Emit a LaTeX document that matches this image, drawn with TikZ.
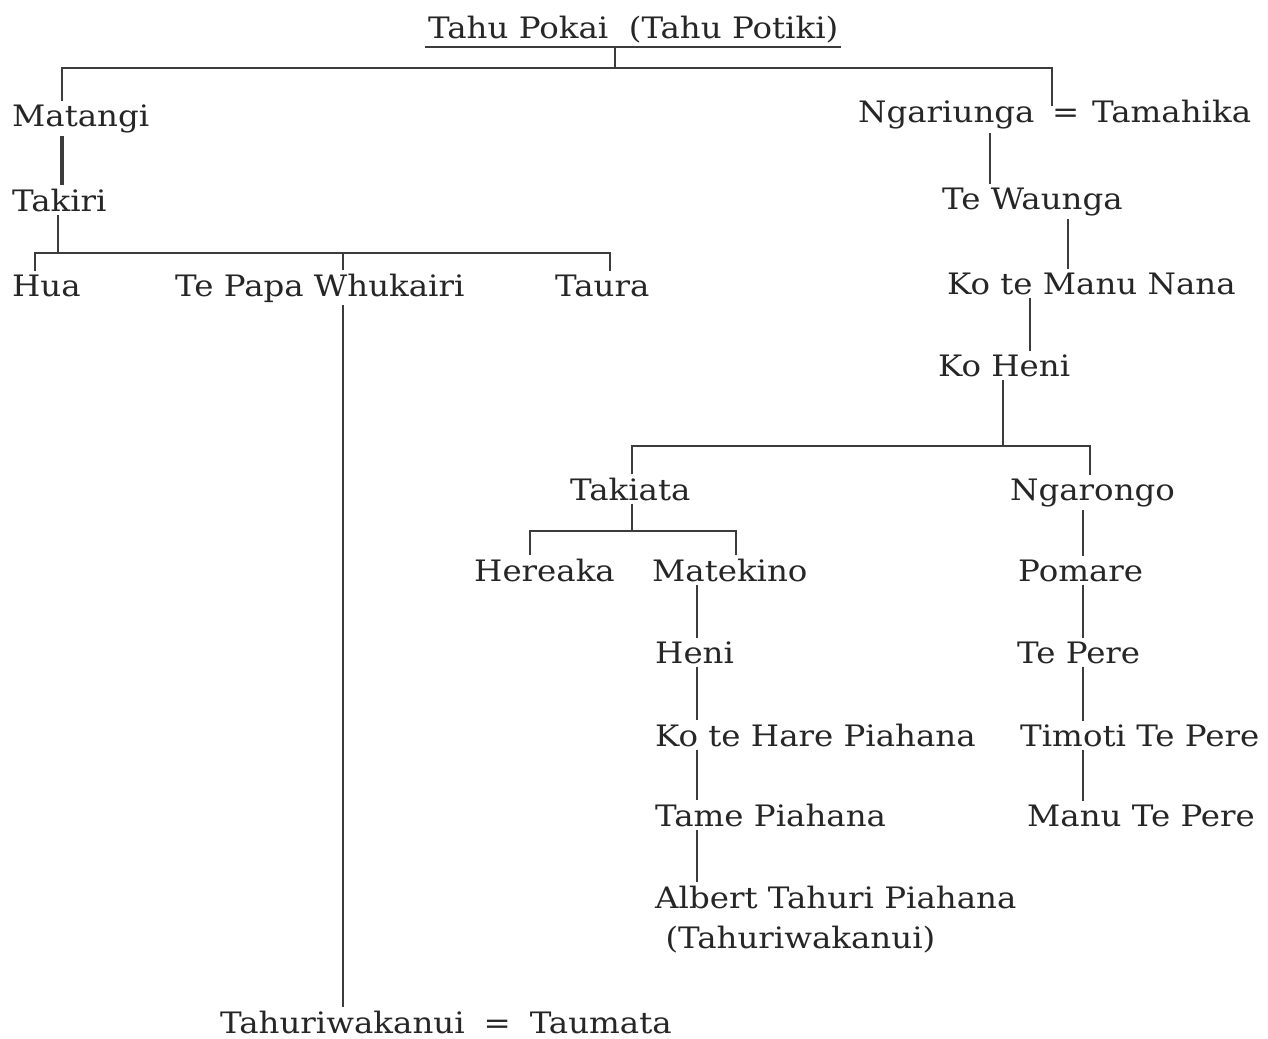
\documentclass[tikz,border=0pt]{standalone}
\usepackage{fontspec}
\setmainfont{DejaVu Serif}[FakeStretch=1.1]
\usetikzlibrary{positioning}
\definecolor{TreeInk}{HTML}{262626}
\definecolor{TreeLine}{HTML}{3C3C3C}

\begin{document}
\begin{tikzpicture}[
    x=1pt, y=-1pt,
    font=\fontsize{29.5}{40}\selectfont,
    person/.style={
      anchor=base west,
      inner sep=3pt,
      text=TreeInk,
      align=left,
    },
    link/.style={draw=TreeLine, line width=2pt},
  ]
    \useasboundingbox[fill=white] (0,0) rectangle (1268,1038);

    % people
    \node[person] (title) at (425,39) {Tahu Pokai\ \ (Tahu Potiki)};
    \node[person] (matangi) at (9,126) {Matangi};
    \node[person] (ngariunga) at (855,123) {Ngariunga};
    \node[person] (eq) at (1049,123) {=};
    \node[person] (tamahika) at (1089,123) {Tamahika};
    \node[person] (takiri) at (9,211) {Takiri};
    \node[person] (tewaunga) at (939,209) {Te Waunga};
    \node[person] (hua) at (9,296) {Hua};
    \node[person] (tepapa) at (172,296) {Te Papa Whukairi};
    \node[person] (taura) at (552,296) {Taura};
    \node[person] (manunana) at (944,294) {Ko te Manu Nana};
    \node[person] (koheni) at (935,376) {Ko Heni};
    \node[person] (takiata) at (567,500) {Takiata};
    \node[person] (ngarongo) at (1007,500) {Ngarongo};
    \node[person] (hereaka) at (471,581) {Hereaka};
    \node[person] (matekino) at (649,581) {Matekino};
    \node[person] (pomare) at (1015,581) {Pomare};
    \node[person] (heni) at (652,663) {Heni};
    \node[person] (tepere) at (1014,663) {Te Pere};
    \node[person] (harepiahana) at (652,746) {Ko te Hare Piahana};
    \node[person] (timoti) at (1017,746) {Timoti Te Pere};
    \node[person] (tamepiahana) at (652,826) {Tame Piahana};
    \node[person] (manutepere) at (1024,826) {Manu Te Pere};
    \node[person] (albert) at (652,948) {Albert Tahuri Piahana\\\ (Tahuriwakanui)};
    \node[person] (tahuri) at (217,1033) {Tahuriwakanui\hspace{19pt}=\hspace{19pt}Taumata};

    % bars and drops
    \coordinate (k1L) at (62,68);
    \coordinate (k1M) at (615,68);
    \coordinate (k1R) at (1052,68);
    \coordinate (k2L) at (35,253);
    \coordinate (k2M) at (58,253);
    \coordinate (k2W) at (343,253);
    \coordinate (k2R) at (610,253);
    \coordinate (kNg) at (990,0);
    \coordinate (kWa) at (1068,0);
    \coordinate (kMa) at (1030,0);
    \coordinate (k4L) at (632,446);
    \coordinate (k4M) at (1003,446);
    \coordinate (k4R) at (1090,446);
    \coordinate (k5L) at (530,531);
    \coordinate (k5M) at (632,531);
    \coordinate (k5R) at (736,531);
    \coordinate (kMk) at (697,0);
    \coordinate (kPo) at (1083,0);

    \draw[link] (title.south west) -- (title.south east);
    \draw[link] (title.south -| k1M) -- (k1M);
    \draw[link] (matangi.north -| k1L) -- (k1L) -- (k1R) -- (eq.north -| k1R);
    \draw[link, line width=3.6pt] (matangi.south -| k1L) -- (takiri.north -| k1L);

    \draw[link] (takiri.south -| k2M) -- (k2M);
    \draw[link] (hua.north -| k2L) -- (k2L) -- (k2R) -- (taura.north -| k2R);
    \draw[link] (k2W) -- (tepapa.north -| k2W);
    \draw[link] (tepapa.south -| k2W) -- (tahuri.north -| k2W);

    \draw[link] (ngariunga.south -| kNg) -- (tewaunga.north -| kNg);
    \draw[link] (tewaunga.south -| kWa) -- (manunana.north -| kWa);
    \draw[link] (manunana.south -| kMa) -- (koheni.north -| kMa);

    \draw[link] (koheni.south -| k4M) -- (k4M);
    \draw[link] (takiata.north -| k4L) -- (k4L) -- (k4R) -- (ngarongo.north -| k4R);
    \draw[link] (takiata.south -| k5M) -- (k5M);
    \draw[link] (hereaka.north -| k5L) -- (k5L) -- (k5R) -- (matekino.north -| k5R);

    \draw[link] (matekino.south -| kMk) -- (heni.north -| kMk);
    \draw[link] (heni.south -| kMk) -- (harepiahana.north -| kMk);
    \draw[link] (harepiahana.south -| kMk) -- (tamepiahana.north -| kMk);
    \draw[link] (tamepiahana.south -| kMk) -- (albert.north -| kMk);

    \draw[link] (ngarongo.south -| kPo) -- (pomare.north -| kPo);
    \draw[link] (pomare.south -| kPo) -- (tepere.north -| kPo);
    \draw[link] (tepere.south -| kPo) -- (timoti.north -| kPo);
    \draw[link] (timoti.south -| kPo) -- (manutepere.north -| kPo);
  \end{tikzpicture}
\end{document}
